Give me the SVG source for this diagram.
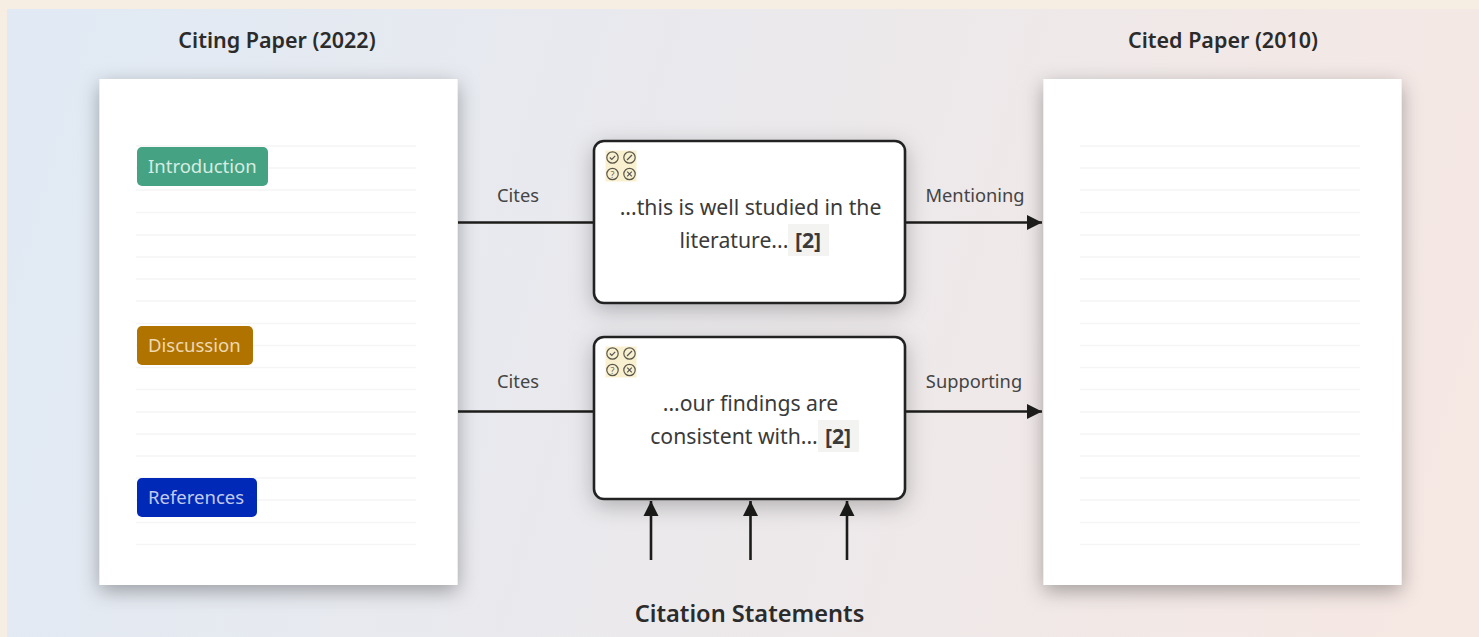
<svg xmlns="http://www.w3.org/2000/svg" width="1479" height="637" viewBox="0 0 1479 637">
<style>
text{font-family:"Noto Sans","Open Sans","Liberation Sans",sans-serif;fill:#2b2b2b}
.h{font-size:21.500px;font-weight:600;text-anchor:middle}
.t{font-size:21.200px;text-anchor:middle;fill:#3a3a3a}
.l{font-size:18.300px;text-anchor:middle;fill:#444}
.b{font-size:18.500px}
.r{stroke:#f5f5f5;stroke-width:1.5}
.c{stroke:#1c1c1a;stroke-width:2.600;fill:none}
.p{fill:#fff;filter:url(#s)}
.n{fill:#fff;stroke:#222;stroke-width:2.600;filter:url(#s2)}
.i{fill:none;stroke:#5a564a;stroke-width:1.200}
</style>
<defs>
<linearGradient id="g" gradientUnits="userSpaceOnUse" x1="30" y1="150" x2="1450" y2="560"><stop offset="0" stop-color="#e1eaf4"/><stop offset="1" stop-color="#f6e8e3"/></linearGradient>
<filter id="s" x="-15%" y="-10%" width="130%" height="120%"><feDropShadow dx="0" dy="6" stdDeviation="10" flood-color="#000" flood-opacity=".33"/></filter>
<filter id="s2" x="-15%" y="-15%" width="130%" height="140%"><feDropShadow dx="0" dy="6" stdDeviation="11" flood-color="#000" flood-opacity=".25"/></filter>
<marker id="a" markerUnits="userSpaceOnUse" markerWidth="16" markerHeight="18" refX="15" refY="9" orient="auto"><path d="M0 1.500L15 9L0 16.500Z" fill="#1c1c1a"/></marker>
<g id="rules" class="r"><path d="M0 146H280M0 168H280M0 190H280M0 212.500H280M0 235H280M0 257H280M0 279H280M0 301H280M0 323.500H280M0 345.500H280M0 367.500H280M0 389.500H280M0 412H280M0 434H280M0 456H280M0 478H280M0 500H280M0 522.500H280M0 544.500H280"/></g>
<g id="icons"><rect x="-0.500" y="-0.500" width="31" height="31" fill="#f9f0cf"/><circle class="i" cx="6.500" cy="6.500" r="5.700"/><circle class="i" cx="23.500" cy="6.500" r="5.700"/><circle class="i" cx="6.500" cy="23" r="5.700"/><circle class="i" cx="23.500" cy="23" r="5.700"/><path d="M3.800 6.500l2 2 3.400-3.600M21 9l5-5M21.200 20.700l4.600 4.600M25.800 20.700l-4.600 4.600" fill="none" stroke="#555" stroke-width="1.200"/><text x="6.500" y="26.500" style="font-size:9px;text-anchor:middle;fill:#666">?</text></g>
</defs>
<rect width="1479" height="637" fill="#f6ede3"/>
<rect x="7" y="9" width="1472" height="628" fill="url(#g)"/>
<g id="citing-paper"><text class="h" x="277" y="48">Citing Paper (2022)</text><rect class="p" x="99.500" y="79" width="358" height="506"/><use href="#rules" x="136"/></g>
<g id="cited-paper"><text class="h" x="1223" y="48">Cited Paper (2010)</text><rect class="p" x="1043.500" y="79" width="358" height="506"/><use href="#rules" x="1080"/></g>
<g id="tag-introduction"><rect x="137" y="147" width="131" height="39" rx="5" fill="#45a383"/><text class="b" x="148" y="172.500" style="fill:#d6ece2">Introduction</text></g>
<g id="tag-discussion"><rect x="137" y="326" width="116" height="39" rx="5" fill="#b07300"/><text class="b" x="148" y="352" style="fill:#eed9b0">Discussion</text></g>
<g id="tag-references"><rect x="137" y="478" width="120" height="39" rx="5" fill="#0029b8"/><text class="b" x="148" y="504" style="fill:#c2cbee">References</text></g>
<g id="connectors">
<path class="c" d="M458 222.500H594M458 411.500H594"/>
<path class="c" d="M906 222.500H1042" marker-end="url(#a)"/>
<path class="c" d="M906 411.500H1042" marker-end="url(#a)"/>
<path class="c" d="M651 560V501" marker-end="url(#a)"/>
<path class="c" d="M750.500 560V501" marker-end="url(#a)"/>
<path class="c" d="M847 560V501" marker-end="url(#a)"/>
<text class="l" x="518" y="202">Cites</text><text class="l" x="518" y="388">Cites</text>
<text class="l" x="975" y="202">Mentioning</text><text class="l" x="974" y="388">Supporting</text>
</g>
<g id="statement-1"><rect class="n" x="594" y="141" width="311" height="162" rx="10"/><use href="#icons" x="606" y="151"/><text class="t" x="750.500" y="215">...this is well studied in the</text><rect x="788" y="224" width="41" height="32" fill="#f3f3f2"/><text class="t" x="734" y="248">literature...</text><text class="t" x="808" y="248" style="font-weight:700">[2]</text></g>
<g id="statement-2"><rect class="n" x="594" y="337" width="311" height="162" rx="10"/><use href="#icons" x="606" y="347"/><text class="t" x="750.500" y="411">...our findings are</text><rect x="818" y="420" width="41" height="32" fill="#f3f3f2"/><text class="t" x="734" y="444">consistent with...</text><text class="t" x="838" y="444" style="font-weight:700">[2]</text></g>
<g id="caption"><text class="h" x="749.500" y="622" style="font-size:23.600px">Citation Statements</text></g>
</svg>
